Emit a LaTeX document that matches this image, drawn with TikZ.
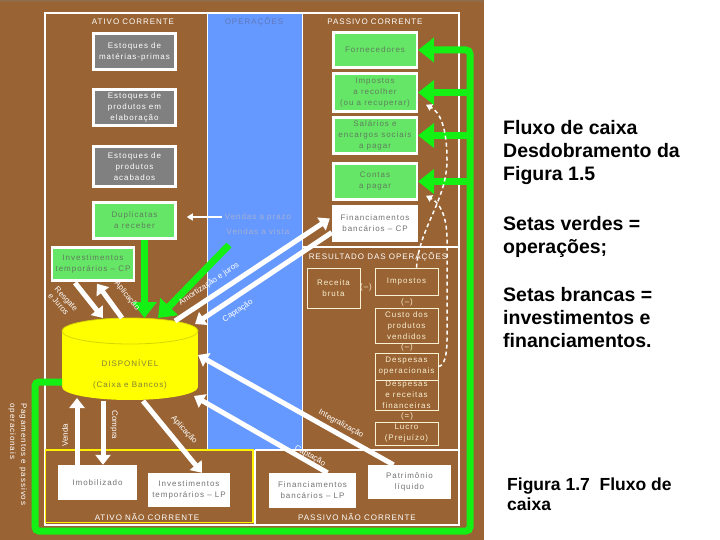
\documentclass[tikz,border=0pt]{standalone}
\usepackage{fontspec}
\setmainfont{Liberation Sans}
\newfontfamily\dg[LetterSpace=12]{Liberation Sans}
\newfontfamily\dgr{Liberation Sans}
\usetikzlibrary{arrows.meta,calc}
\definecolor{brownbg}{RGB}{153,99,51}
\definecolor{bluecol}{RGB}{102,153,255}
\definecolor{boxgreen}{RGB}{102,230,102}
\definecolor{arrgreen}{RGB}{20,240,20}
\definecolor{boxgray}{RGB}{128,128,128}
\definecolor{gtext}{RGB}{95,125,95}
\definecolor{wtext}{RGB}{115,115,115}
\definecolor{btext}{RGB}{165,175,210}
\definecolor{optext}{RGB}{95,120,185}
\definecolor{cream}{RGB}{250,240,210}
\definecolor{cyl}{RGB}{255,255,0}
\definecolor{cylline}{RGB}{215,215,0}
\definecolor{cyltext}{RGB}{130,130,60}
\definecolor{ylw}{RGB}{255,240,0}
\begin{document}
\begin{tikzpicture}[x=1pt,y=-1pt,
 txt/.style={font=\fontsize{8}{11}\selectfont\dg, align=center, inner sep=0pt},
 gbox/.style={txt, fill=boxgray, draw=white, line width=2.5pt, text=white},
 grbox/.style={txt, fill=boxgreen, draw=white, line width=2.5pt, text=gtext},
 wbox/.style={txt, fill=white, text=wtext},
 rbox/.style={txt, draw=cream, line width=0.8pt, text=cream},
 hdr/.style={txt, text=white},
 lbl/.style={align=center, inner sep=0pt, text=white, font=\fontsize{8}{9}\selectfont\dgr},
 warr/.style={white, line width=5pt, -{Triangle[length=10pt,width=15pt]}},
 garr/.style={arrgreen, line width=7pt, -{Triangle[length=16pt,width=24pt]}},
 dasharr/.style={white, line width=1.5pt, dash pattern=on 4pt off 3pt, -{Triangle[length=6pt,width=7pt]}},
 frame/.style={white, line width=1.5pt},
 big/.style={anchor=base west, inner sep=0pt, font=\fontsize{19.5}{23}\selectfont\bfseries},
 big2/.style={anchor=base west, inner sep=0pt, font=\fontsize{17.5}{20}\selectfont\bfseries}
]
\useasboundingbox (0,0) rectangle (720,540);
\fill[white] (0,0) rectangle (720,540);
\fill[brownbg] (0,0) rectangle (484,540);
\fill[brownbg!70!gray] (0,0) rectangle (484,2.5);
% blue column
\fill[bluecol] (208,13) rectangle (302,450);
% frame lines
\draw[frame] (45,13) rectangle (459,525);
\draw[frame] (207.5,13) -- (207.5,450);
\draw[frame] (302.5,13) -- (302.5,450);
\draw[frame] (302.5,247) -- (459,247);
\draw[frame] (255,450) -- (459,450);
\draw[frame] (255,450) -- (255,525);
\draw[ylw, line width=1.5pt] (45.5,450) rectangle (253,522.5);

% headers
\node[hdr] (hac) at (133,22) {ATIVO CORRENTE};
\node[txt, text=optext] (hop) at (254,22) {OPERAÇÕES};
\node[hdr] (hpc) at (375,22) {PASSIVO CORRENTE};
\node[hdr] (hres) at (378,257) {RESULTADO DAS OPERAÇÕES};
\node[hdr] (hanc) at (147,517) {ATIVO NÃO CORRENTE};
\node[hdr] (hpnc) at (357,517) {PASSIVO NÃO CORRENTE};

% left column boxes
\node[gbox, minimum width=82pt, minimum height=36pt] (mp) at (134.5,51.5) {Estoques de\\matérias-primas};
\node[gbox, minimum width=82pt, minimum height=36pt] (elab) at (134.5,107.5) {Estoques de\\produtos em\\elaboração};
\node[gbox, minimum width=82pt, minimum height=40pt] (acab) at (134.5,166.5) {Estoques de\\produtos\\acabados};
\node[grbox, minimum width=82pt, minimum height=36pt] (dup) at (134.5,220.5) {Duplicatas\\a receber};
\node[grbox, minimum width=82pt, minimum height=33pt] (invcp) at (93,264) {Investimentos\\temporários – CP};

% right column boxes
\node[grbox, minimum width=83.5pt, minimum height=35pt] (forn) at (375,50) {Fornecedores};
\node[grbox, minimum width=83.5pt, minimum height=38pt] (imp) at (375,92.5) {Impostos\\a recolher\\(ou a recuperar)};
\node[grbox, minimum width=83.5pt, minimum height=36pt] (sal) at (375,135.5) {Salários e\\encargos sociais\\a pagar};
\node[grbox, minimum width=83.5pt, minimum height=36pt] (contas) at (375,181.5) {Contas\\a pagar};
\node[wbox, minimum width=86pt, minimum height=37pt] (fincp) at (375,223.5) {Financiamentos\\bancários – CP};

% resultado
\node[rbox, minimum width=53pt, minimum height=40pt] (rb) at (333.5,288) {Receita\\bruta};
\node[rbox, minimum width=63pt, minimum height=27pt] (rimp) at (406.5,281.5) {Impostos};
\node[rbox, minimum width=63pt, minimum height=35pt] (cpv) at (406.5,325.5) {Custo dos\\produtos\\vendidos};
\node[rbox, minimum width=63pt, minimum height=27pt] (dop) at (406.5,366.5) {Despesas\\operacionais};
\node[rbox, minimum width=63pt, minimum height=30pt] (drf) at (406.5,395) {Despesas\\e receitas\\financeiras};
\node[rbox, minimum width=63pt, minimum height=23pt] (luc) at (406.5,433.5) {Lucro\\(Prejuízo)};
\node[txt, text=cream] (op1) at (366,287) {(–)};
\node[txt, text=cream] (op2) at (407,302) {(–)};
\node[txt, text=cream] (op3) at (407,347) {(–)};
\node[txt, text=cream] (op4) at (407,416) {(=)};

% bottom boxes
\node[wbox, minimum width=79pt, minimum height=35pt] (imob) at (97.5,482.5) {Imobilizado};
\node[wbox, minimum width=82pt, minimum height=34pt] (invlp) at (189,490) {Investimentos\\temporários – LP};
\node[wbox, minimum width=87pt, minimum height=35pt] (finlp) at (312.5,490.5) {Financiamentos\\bancários – LP};
\node[wbox, minimum width=83pt, minimum height=34pt] (pl) at (409.5,482) {Patrimônio\\líquido};

% operations labels
\node[txt, text=btext] (vp) at (258,217) {Vendas a prazo};
\node[txt, text=btext] (vv) at (258,232) {Vendas a vista};

% cylinder
\fill[cyl] (62,331) rectangle (198,387);
\fill[cyl] (130,387) ellipse [x radius=68, y radius=13];
\fill[cyl] (130,331) ellipse [x radius=68, y radius=13];
\draw[cylline, line width=0.8pt] (130,331) ellipse [x radius=68, y radius=13];
\node[txt, text=cyltext] (disp) at (130,363) {DISPONÍVEL};
\node[txt, text=cyltext] (cb) at (130,385) {(Caixa e Bancos)};

% coordinates on the cylinder
\coordinate (cT0) at (144.5,318);
\coordinate (cT1) at (103,318);
\coordinate (cT2) at (122,318);
\coordinate (cT3) at (158,318);
\coordinate (cT4) at (175,321);
\coordinate (cT5) at (195,324);
\coordinate (cR1) at (198,355);
\coordinate (cR2) at (194,396);
\coordinate (cB1) at (143,401);
\coordinate (cB2) at (77,398);
\coordinate (cB3) at (103,401);
\coordinate (cL) at (62,382);
\coordinate (tr) at (470,0);
\coordinate (gvs) at (229,245);
\coordinate (dupend) at ($(dup.east)+(10,0)$);
\coordinate (ta) at ($(imp.south east)+(8,-8)$);
\coordinate (tb) at ($(contas.south east)+(8,-5)$);

% thin white arrow (vendas a prazo)
\draw[white, line width=1.2pt, -{Triangle[length=6pt,width=7pt]}] ($(vp.west)+(-3,0)$) -- (vp.west -| dupend);

% green arrows
\draw[garr] (gvs) -- (cT3);
\draw[garr] (dup.south -| cT0) -- (cT0);
\draw[garr, rounded corners=4pt] (cL) -- (35,382) -- (35,531) -- (470,531) -- (470,50) -- (forn.east);
\draw[garr] (imp.east -| tr) -- (imp.east);
\draw[garr] (sal.east -| tr) -- (sal.east);
\draw[garr] (contas.east -| tr) -- (contas.east);

% white arrows
\draw[warr] ($(invcp.south)+(-18,1)$) -- (cT1);
\draw[warr] (cT2) -- ($(invcp.south)+(4,2)$);
\draw[warr] (cT4) -- ($(fincp.west)+(-2,-5)$);
\draw[warr] ($(fincp.west)+(0,9)$) -- (cT5);
\draw[warr] ($(pl.north)+(-16,0)$) -- (cR1);
\draw[warr] ($(finlp.north)+(15,0)$) -- (cR2);
\draw[warr] (cB1) -- ($(invlp.north)+(13,0)$);
\draw[warr] (imob.north -| cB2) -- (cB2);
\draw[warr] (cB3) -- (imob.north -| cB3);

% dashed arrows
\draw[dasharr] ($(rimp.north)+(10,0)$) .. controls (419,228) and (447,200) .. (447,160) .. controls (447,128) and (440,112) .. (ta);
\draw[dasharr] (dop.east) .. controls (444,366) and (447,356) .. (447,340) -- (447,240) .. controls (447,216) and (440,203) .. (tb);

% arrow labels
\node[lbl, rotate=-47, align=left] (lres) at (63,302) {Resgate\\e Juros};
\node[lbl, rotate=-51] (lapl) at (127,296) {Aplicação};
\node[lbl, rotate=34] (lam) at (209,284) {Amortização e juros};
\node[lbl, rotate=33] (lcap) at (238,311) {Captação};
\node[lbl, rotate=-29] (lint) at (341,424) {Integralização};
\node[lbl, rotate=-30] (lcap2) at (310,456) {Captação};
\node[lbl, rotate=-48] (lapl2) at (184,430) {Aplicação};
\node[lbl, rotate=90] (lven) at (65,435) {Venda};
\node[lbl, rotate=-90] (lcom) at (114,425) {Compra};
\node[txt, text=white, rotate=-90, anchor=north west, align=left] (lpag) at (27,403) {Pagamentos e passivos\\operacionais};

% right side text
\node[big] (r1) at (503,135) {Fluxo de caixa};
\node[big] (r2) at (503,158) {Desdobramento da};
\node[big] (r3) at (503,181) {Figura 1.5};
\node[big] (r4) at (503,230) {Setas verdes =};
\node[big] (r5) at (503,253) {operações;};
\node[big] (r6) at (503,301) {Setas brancas =};
\node[big] (r7) at (503,324) {investimentos e};
\node[big] (r8) at (503,347) {financiamentos.};
\node[big2] (r9) at (507,490) {Figura 1.7\ \ Fluxo de};
\node[big2] (r10) at (507,510) {caixa};
\end{tikzpicture}
\end{document}
